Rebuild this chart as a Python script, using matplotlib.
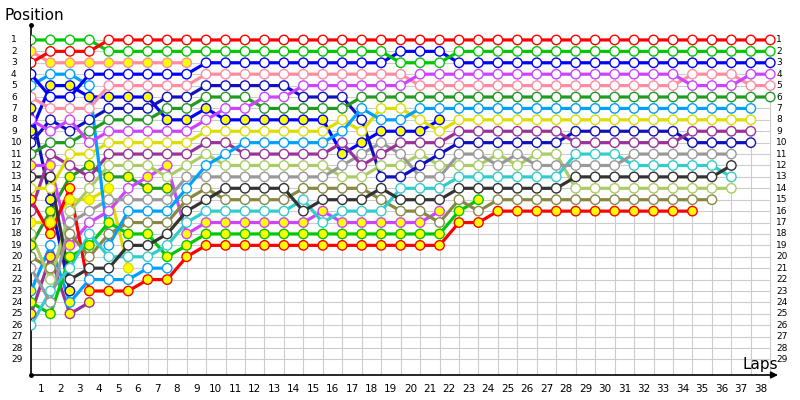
import matplotlib
matplotlib.use("Agg")
import matplotlib.pyplot as plt

# positions lap by lap, lap 0 = grid
red = [3, 2, 2, 2] + [1] * 35
green = [1, 1, 1, 1] + [2] * 15 + [3] * 3 + [2] * 17
blue = [4, 6, 6, 4, 4, 4, 4, 4, 4] + [3] * 10 + [2] * 3 + [3] * 17
violet = [8, 9, 8, 10, 9, 9, 9, 9, 9, 8, 7, 7, 6, 6] + [5] * 6 + [4] * 14 + [5] * 3 + [4] * 2
pink = [6, 7, 7, 7, 5, 5, 5, 5, 5] + [4] * 11 + [5] * 14 + [4] * 3 + [5] * 2
darkgreen = [11, 10, 10, 9, 8, 8, 8, 7, 7, 6, 6, 6, 7, 7, 7, 7, 7] + [6] * 22
skyblue = [5, 4, 4, 5, 19, 16, 16, 16, 14, 12, 11, 10, 10, 10, 10, 10, 9, 7, 8, 8] + [7] * 18
yellow = [14, 14, 11, 11, 10, 10, 10, 10, 10, 9, 9, 9, 9, 9, 9, 9, 8, 9, 7, 7, 8, 9] + [8] * 16
purple = [16, 11, 12, 13, 11, 11, 11, 11, 11, 10, 10, 11, 11, 11, 11, 11, 10, 12, 11, 10, 10, 10] + [9] * 6 + [10] * 6 + [9] * 4
navy = [10, 8, 9, 8, 7, 7, 7, 6, 6, 5, 5, 5, 5, 5, 6, 6, 6, 8, 13, 13, 12, 11] + [10] * 6 + [9] * 6 + [10] * 4
gray = [21, 24, 17, 16, 15, 15, 15, 15, 13, 13, 13, 13, 13, 13, 13, 13, 12, 11, 10, 11, 13, 13, 11, 11, 12, 11, 12, 12, 12, 12, 12] + [11] * 6
black = [13, 13, 22, 21, 21, 19, 19, 18, 16, 15, 14, 14, 14, 14, 16, 15, 15, 15, 14, 15, 15, 15, 14, 14, 14, 14, 14, 14] + [13] * 8 + [12]
cyan = [26, 23, 21, 18, 20, 20, 20, 19, 17, 16, 16, 16, 16, 16, 15, 17, 16, 16, 16, 14, 14, 14] + [13] * 6 + [11] * 3 + [12] * 5 + [13]
lightgreen = [18, 22, 16, 14, 12, 12, 12, 13, 12, 11, 12, 12, 12, 12, 12, 12, 13, 13, 12, 12, 11, 12, 12, 12, 11, 12, 11, 11] + [14] * 9
olive = [20, 21, 18, 20, 18, 17, 17, 17, 15, 14, 15, 15, 15, 15, 14, 14, 14, 14, 15, 16, 16, 17, 15, 16] + [15] * 12

# cars drawn with yellow markers
red_y = [15, 18, 14, 23, 23, 23, 22, 22, 20] + [19] * 13 + [17, 17] + [16] * 11
green_y = [24, 25, 20, 19, 17, 18, 18, 20, 19] + [18] * 13 + [16, 15]
violet_y = [12, 12, 19, 17, 16, 14, 13, 12, 18, 17, 17, 17, 17, 17, 17, 16, 17, 17, 17, 17, 17, 16]
blue_y = [9, 5, 5, 6, 6, 6, 6, 8, 8, 7, 8, 8, 8, 8, 8, 8, 11, 10, 9, 9, 9, 8]
pink_y = [2, 3, 3, 3, 3, 3, 3, 3, 3]
yellow_y = [17, 17, 15, 15, 14, 21]
navy_y = [7, 15, 23]
darkgreen_y = [19, 16, 13, 12, 13, 13, 14, 14]
skyblue_y = [23, 19, 24, 22, 22, 22, 21, 21]
purple_y = [25, 20, 25, 24]

# laps where those cars show a white marker instead
violet_y_white = [3, 4, 5]
skyblue_y_white = [1, 3, 4, 5, 6, 7]

n_pos = 29
n_laps = 38

series = [
    (purple_y, '#993399', True, []), (skyblue_y, '#00a0ff', True, skyblue_y_white),
    (darkgreen_y, '#229922', True, []), (navy_y, '#1111bb', True, []),
    (yellow_y, '#dddd00', True, []), (pink_y, '#ff8ca0', True, []),
    (blue_y, '#0000ff', True, []), (violet_y, '#cc44ff', True, violet_y_white),
    (green_y, '#00c800', True, []), (red_y, '#ff0000', True, []),
    (olive, '#888844', False, []), (lightgreen, '#aacc66', False, []),
    (cyan, '#33cccc', False, []), (black, '#333333', False, []),
    (gray, '#999999', False, []), (navy, '#1111bb', False, []),
    (purple, '#993399', False, []), (yellow, '#dddd00', False, []),
    (skyblue, '#00a0ff', False, []), (darkgreen, '#229922', False, []),
    (pink, '#ff8ca0', False, []), (violet, '#cc44ff', False, []),
    (blue, '#0000ff', False, []), (green, '#00c800', False, []),
    (red, '#ff0000', False, []),
]

fig = plt.figure(figsize=(8, 4), dpi=100)
ax = fig.add_axes([31 / 800, 25 / 400, 749 / 800, 350 / 400])
ytop, ybot = -0.31, 30.36
ax.set_xlim(0, 38.5)
ax.set_ylim(ybot, ytop)
ax.axis('off')

# grid
for p in range(1, n_pos + 1):
    ax.plot([0, n_laps], [p, p], color='#cccccc', lw=0.8, zorder=1)
for k in range(0, n_laps + 1):
    ax.plot([k, k], [1, ybot], color='#cccccc', lw=0.8, zorder=1)

# axes lines
ax.plot([0, 0], [ybot, ytop], color='black', lw=1.2, zorder=2, clip_on=False)
ax.plot([0], [ytop], 'o', color='black', ms=2.5, zorder=2, clip_on=False)
ax.plot([0], [ybot], 'o', color='black', ms=2.5, zorder=2, clip_on=False)
ax.annotate('', xy=(38.4, ybot), xytext=(0, ybot),
            arrowprops=dict(arrowstyle='-|>', color='black', lw=1.2,
                            mutation_scale=10, shrinkA=0, shrinkB=0),
            annotation_clip=False)

for pos, col, yel, white_laps in series:
    laps = list(range(len(pos)))
    fills = ['#ffff00' if yel and k not in white_laps else 'white' for k in laps]
    ax.plot(laps, pos, color=col, lw=2.3, zorder=3, solid_capstyle='round')
    ax.scatter(laps, pos, s=46, c=fills, edgecolors=col, linewidths=1.0, zorder=4)

# labels
for p in range(1, n_pos + 1):
    ax.text(-1.03, p, str(p), fontsize=6.5, ha='left', va='center', clip_on=False)
    ax.text(38.3, p, str(p), fontsize=6.5, ha='left', va='center', clip_on=False)
for k in range(1, n_laps + 1):
    ax.text(k - 0.5, 31.55, str(k), fontsize=7.5, ha='center', va='center', clip_on=False)

fig.text(4 / 800, 1 - 15 / 400, 'Position', fontsize=11, ha='left', va='center')
fig.text(742 / 800, 1 - 364 / 400, 'Laps', fontsize=11, ha='left', va='center')

fig.savefig('out.png', dpi=100)
